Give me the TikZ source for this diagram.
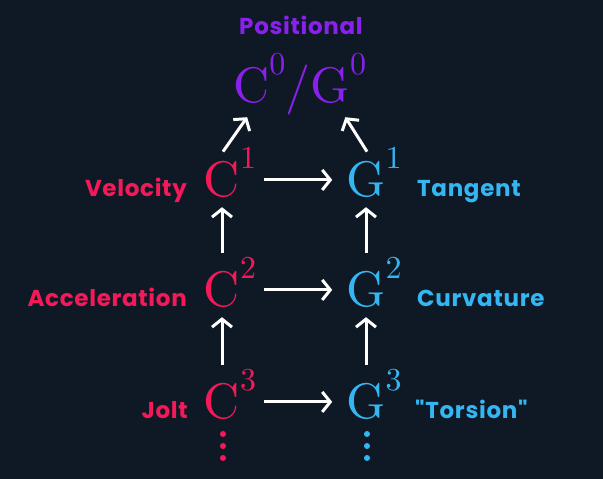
\RequirePackage{fix-cm}
\documentclass[tikz,border=0pt]{standalone}
\usepackage[no-math]{fontspec}
\newfontfamily\pop{Poppins}[LetterSpace=3]
\usetikzlibrary{arrows.meta}

\definecolor{bg}{HTML}{0F1925}
\definecolor{cred}{HTML}{F5195A}
\definecolor{gblue}{HTML}{33B6F2}
\definecolor{ppurple}{HTML}{8A20EE}

% Computer Modern at display size for the symbols and their orders
\font\cmbig=cmr10 at 50pt
\font\cmsup=cmr10 at 32pt
\newcommand\supdigit[1]{\raisebox{28pt}[0pt][0pt]{\cmsup #1}}
\newcommand\supdigitover[1]{\rlap{\supdigit{#1}}}

\tikzset{
  sym/.style={inner sep=0pt, anchor=base, font=\cmbig},
  cvar/.style={sym, text=cred},
  gvar/.style={sym, text=gblue},
  lab/.style={inner sep=0pt, font=\pop\bfseries\fontsize{23}{27}\selectfont},
  arr/.style={draw=white, line width=3pt, -{Straight Barb[length=8pt,width=20pt]}},
  dotmark/.style={circle, inner sep=0pt, minimum size=6pt},
}

\begin{document}
\begin{tikzpicture}[x=1pt, y=1pt]
  \fill[bg] (0,0) rectangle (603,479);
  \useasboundingbox (0,0) rectangle (603,479);

  % title and the positional class
  \node[lab, text=ppurple, anchor=base] (ttl) at (301,444) {Positional};
  \node[sym, text=ppurple] (top) at (300,376)
    {C\supdigit{0}\kern0.5pt/G\supdigit{0}\kern0.5pt};

  % parametric continuity
  \node[cvar] (c1) at (222,282) {C\supdigitover{1}};
  \node[cvar] (c2) at (222,172) {C\supdigitover{2}};
  \node[cvar] (c3) at (222,60)  {C\supdigitover{3}};

  % geometric continuity
  \node[gvar] (g1) at (366,282) {G\supdigitover{1}};
  \node[gvar] (g2) at (366,172) {G\supdigitover{2}};
  \node[gvar] (g3) at (366,60)  {G\supdigitover{3}};

  % side labels
  \node[lab, text=cred, anchor=base east] (lc1) at (187,282) {Velocity};
  \node[lab, text=cred, anchor=base east] (lc2) at (187,172) {Acceleration};
  \node[lab, text=cred, anchor=base east] (lc3) at (188,60)  {Jolt};
  \node[lab, text=gblue, anchor=base west] (lg1) at (417,282) {Tangent};
  \node[lab, text=gblue, anchor=base west] (lg2) at (417,172) {Curvature};
  \node[lab, text=gblue, anchor=base west] (lg3) at (415,60)  {"Torsion"};

  % implications C^n -> G^n
  \foreach \n in {1,2,3}
    \draw[arr, shorten <=24pt, shorten >=14pt] (c\n.east) -- (g\n.west);

  % higher order implies lower order
  \draw[arr, shorten <=20pt, shorten >=10pt] (c2.north) -- (c1.south);
  \draw[arr, shorten <=20pt, shorten >=10pt] (c3.north) -- (c2.south);
  \draw[arr, shorten <=20pt, shorten >=10pt] (g2.north) -- (g1.south);
  \draw[arr, shorten <=20pt, shorten >=10pt] (g3.north) -- (g2.south);

  % first order implies positional
  \draw[arr] ([xshift=1pt, yshift=11pt]c1.north) -- ([xshift=14pt, yshift=-1.5pt]top.south west);
  \draw[arr] ([xshift=1pt, yshift=11pt]g1.north) -- ([xshift=-21.5pt, yshift=-1.5pt]top.south east);

  % continuation dots
  \foreach \k/\yy in {1/45, 2/33, 3/21} {
    \node[dotmark, fill=cred]  (cd\k) at (223,\yy) {};
    \node[dotmark, fill=gblue] (gd\k) at (367,\yy) {};
  }
\end{tikzpicture}
\end{document}
